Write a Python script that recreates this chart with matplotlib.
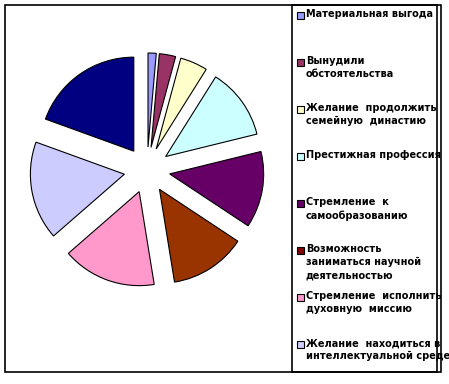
import matplotlib
matplotlib.use("Agg")
import matplotlib.pyplot as plt
from matplotlib.patches import Rectangle

# Data (shares)
values = [1.4, 2.8, 4.7, 12.2, 13.1, 13.1, 16.1, 16.9, 19.4]
colors = ["#9999FF", "#993366", "#FFFFCC", "#CCFFFF", "#660066",
          "#993300", "#FF99CC", "#CCCCFF", "#000080"]
legend_colors = ["#9999FF", "#993366", "#FFFFCC", "#CCFFFF", "#660066",
                 "#800000", "#FF99CC", "#CCCCFF"]
labels = [
    "Материальная выгода",
    "Вынудили\nобстоятельства",
    "Желание  продолжить\nсемейную  династию",
    "Престижная профессия",
    "Стремление  к\nсамообразованию",
    "Возможность\nзаниматься научной\nдеятельностью",
    "Стремление  исполнить\nдуховную  миссию",
    "Желание  находиться в\nинтеллектуальной среде",
]

W, H = 449, 384
fig = plt.figure(figsize=(W / 100, H / 100), dpi=100)
ax = fig.add_axes([0, 0, 1, 1])

def Y(yp):
    return H - yp

ax.pie(values, colors=colors, startangle=90, counterclock=False,
       center=(147, Y(170)), radius=94, explode=[23] * len(values),
       wedgeprops=dict(edgecolor="black", linewidth=0.8))
ax.set_xlim(0, W)
ax.set_ylim(0, H)
ax.set_aspect("auto")
ax.set_axis_off()

# chart border and legend box
ax.add_patch(Rectangle((5, Y(372)), 436, 367, fill=False, edgecolor="black", lw=1.2))
ax.add_patch(Rectangle((292, Y(372)), 145, 367, fill=False, edgecolor="black", lw=1.2))

ys = [15, 62, 109, 156, 203, 250, 297, 344]
for lab, c, yp in zip(labels, legend_colors, ys):
    ax.add_patch(Rectangle((297, Y(yp) - 3.5), 7, 7, facecolor=c,
                           edgecolor="black", lw=0.8))
    ax.text(306, Y(yp) + 6, lab, fontsize=7.0, fontweight="bold",
            family="DejaVu Sans", va="top", ha="left", linespacing=1.4)

fig.savefig("out.png", dpi=100)
